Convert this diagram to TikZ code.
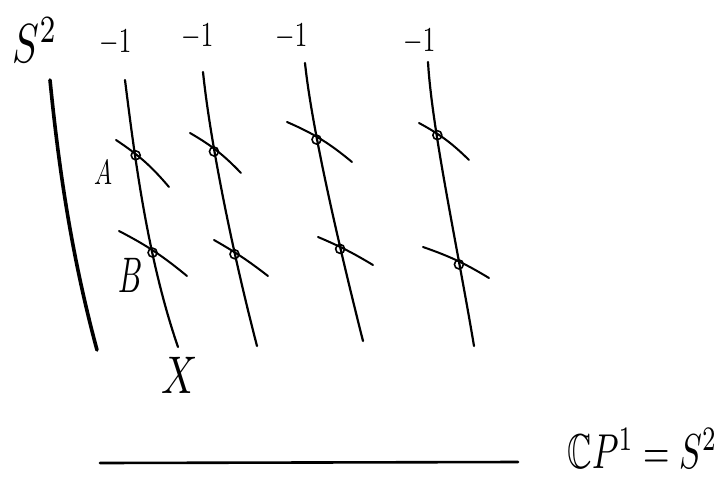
\documentclass[tikz,border=0pt]{standalone}
\usepackage{amssymb}
\usetikzlibrary{intersections}
\begin{document}
\begin{tikzpicture}[x=1pt,y=-1pt,line cap=round,
  fiber/.style={line width=2.2pt},
  cross/.style={line width=2pt},
  pt/.style={circle,draw,line width=1.6pt,inner sep=0pt,minimum size=9pt},
  txt/.style={inner sep=0pt,font=\fontsize{10}{12}\selectfont},
  lbl/.style={txt,anchor=base west,xscale=2.5,yscale=3.5}]
\useasboundingbox (0,0) rectangle (725,482);
% base sphere S^2 (left)
\coordinate (s0) at (50,80);
\coordinate (s1) at (97,350);
\draw[line width=3.6pt] (s0) .. controls (58,160) and (70,250) .. (s1);
\node[txt,anchor=base west,xscale=4,yscale=5.5] (S) at (12,62) {$S^{2}$};
% fibres
\coordinate (f1t) at (125,80);  \coordinate (f1b) at (178,347);
\coordinate (f2t) at (203,72);  \coordinate (f2b) at (257,346);
\coordinate (f3t) at (305,63);  \coordinate (f3b) at (363,341);
\coordinate (f4t) at (428,62);  \coordinate (f4b) at (474,346);
\draw[fiber,name path=fa] (f1t) .. controls (135,160) and (148,260) .. (f1b);
\draw[fiber,name path=fb] (f2t) .. controls (210,140) and (232,250) .. (f2b);
\draw[fiber,name path=fc] (f3t) .. controls (312,130) and (340,250) .. (f3b);
\draw[fiber,name path=fd] (f4t) .. controls (432,130) and (458,250) .. (f4b);
% -1 labels
\node[lbl] (m1) at (99,52) {$-1$};
\node[lbl] (m2) at (181,46) {$-1$};
\node[lbl] (m3) at (275,46) {$-1$};
\node[lbl] (m4) at (403,51) {$-1$};
% exceptional curves through A
\coordinate (ca1s) at (116,140); \coordinate (ca1e) at (169,187);
\coordinate (ca2s) at (190,133); \coordinate (ca2e) at (241,173);
\coordinate (ca3s) at (287,122); \coordinate (ca3e) at (352,162);
\coordinate (ca4s) at (419,123); \coordinate (ca4e) at (469,160);
\draw[cross,name path=aa] (ca1s) to[bend left=8] (ca1e);
\draw[cross,name path=ab] (ca2s) to[bend left=8] (ca2e);
\draw[cross,name path=ac] (ca3s) to[bend left=8] (ca3e);
\draw[cross,name path=ad] (ca4s) to[bend left=8] (ca4e);
% exceptional curves through B
\coordinate (cb1s) at (119,231); \coordinate (cb1e) at (187,276);
\coordinate (cb2s) at (214,240); \coordinate (cb2e) at (268,276);
\coordinate (cb3s) at (318,237); \coordinate (cb3e) at (373,265);
\coordinate (cb4s) at (423,247); \coordinate (cb4e) at (489,278);
\draw[cross,name path=ba] (cb1s) to[bend left=6] (cb1e);
\draw[cross,name path=bb] (cb2s) to[bend left=4] (cb2e);
\draw[cross,name path=bc] (cb3s) to[bend left=4] (cb3e);
\draw[cross,name path=bd] (cb4s) to[bend left=6] (cb4e);
% intersection points
\path[name intersections={of=fa and aa, by=ia1}];
\path[name intersections={of=fb and ab, by=ia2}];
\path[name intersections={of=fc and ac, by=ia3}];
\path[name intersections={of=fd and ad, by=ia4}];
\path[name intersections={of=fa and ba, by=ib1}];
\path[name intersections={of=fb and bb, by=ib2}];
\path[name intersections={of=fc and bc, by=ib3}];
\path[name intersections={of=fd and bd, by=ib4}];
\node[pt] (a1) at ([shift={(1,2)}]ia1) {};
\node[pt] (a2) at ([shift={(0,3)}]ia2) {};
\node[pt] (a3) at ([shift={(0,3)}]ia3) {};
\node[pt] (a4) at ([shift={(1,2)}]ia4) {};
\node[pt] (b1) at ([shift={(1,3)}]ib1) {};
\node[pt] (b2) at ([shift={(0,2)}]ib2) {};
\node[pt] (b3) at ([shift={(0,2)}]ib3) {};
\node[pt] (b4) at ([shift={(0,3)}]ib4) {};
% labels
\node[txt,xscale=2.4,yscale=3.5] (A) at (103,173) {$A$};
\node[txt,xscale=3,yscale=5] (B) at (131,275) {$B$};
\node[txt,xscale=4,yscale=5.3] (X) at (180,375) {$X$};
% base line
\coordinate (l0) at (100,463);
\coordinate (l1) at (518,462);
\draw[line width=2.6pt] (l0) -- (l1);
\node[txt,anchor=base east,xscale=3.4,yscale=4.9] (CP) at (718,468) {$\mathbb{C}P^{1}=S^{2}$};
\end{tikzpicture}
\end{document}
